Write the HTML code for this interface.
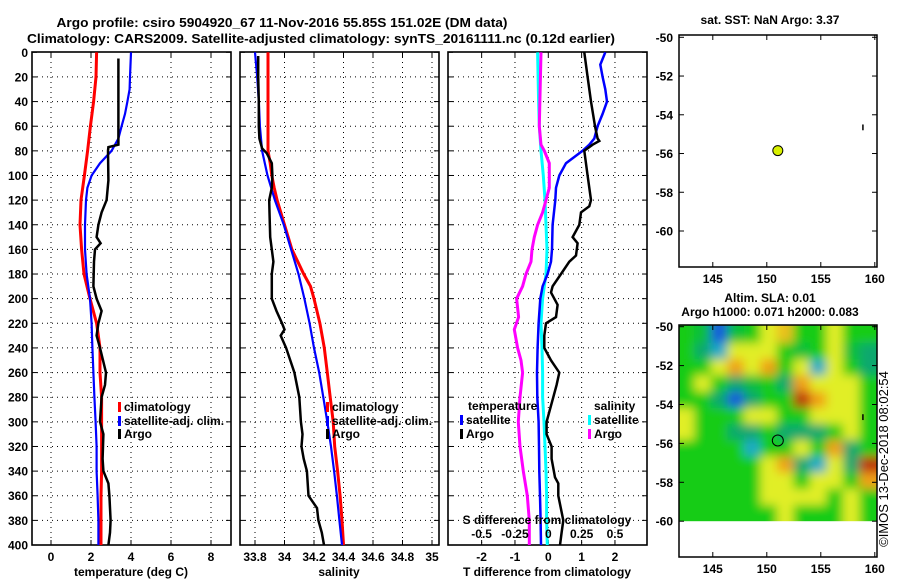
<!DOCTYPE html>
<html><head><meta charset="utf-8"><style>
html,body{margin:0;padding:0;background:#fff;}
svg{display:block;font-family:"Liberation Sans",sans-serif;}
.b{font-weight:bold;font-size:12px;}
</style></head><body>
<svg id="c" width="900" height="580" viewBox="0 0 900 580" xmlns="http://www.w3.org/2000/svg">
<defs>
<clipPath id="cp1"><rect x="32" y="52" width="199" height="493"/></clipPath>
<clipPath id="cp2"><rect x="240" y="52" width="199" height="493"/></clipPath>
<clipPath id="cp3"><rect x="448" y="52" width="199" height="493"/></clipPath>
<clipPath id="cpm"><rect x="679" y="325" width="198" height="197"/></clipPath>
<filter id="blur" filterUnits="userSpaceOnUse" x="660" y="300" width="240" height="250"><feGaussianBlur stdDeviation="5"/></filter>
</defs>
<text x="282" y="27" text-anchor="middle" font-weight="bold" font-size="13" textLength="451" lengthAdjust="spacingAndGlyphs">Argo profile: csiro 5904920_67 11-Nov-2016 55.85S 151.02E (DM data)</text>
<text x="321" y="43" text-anchor="middle" font-weight="bold" font-size="13" textLength="588" lengthAdjust="spacingAndGlyphs">Climatology: CARS2009. Satellite-adjusted climatology: synTS_20161111.nc (0.12d earlier)</text>
<g id="g"></g>
</svg>
<script>
// ---- data ----
const depthTicks = [0,20,40,60,80,100,120,140,160,180,200,220,240,260,280,300,320,340,360,380,400];
const tTicks = [0,2,4,6,8];
const sTicks = [33.8,34,34.2,34.4,34.6,34.8,35];
const dTTicks = [-2,-1,0,1,2];
const dSTicks = [-0.5,-0.25,0,0.25,0.5];
const dSTickLabels = ["-0.5","-0.25","0","0.25","0.5"];

const climTDepth = [0,20,40,60,80,100,120,140,160,180,200,220,240,260,280,300,320,340,360,380,400];
const climT = [2.28,2.25,2.13,1.97,1.83,1.67,1.5,1.45,1.53,1.65,1.95,2.28,2.45,2.45,2.53,2.53,2.53,2.53,2.5,2.5,2.5];
const satTDepth = [0,20,30,40,50,60,70,80,90,100,110,120,140,160,180,200,220,240,260,280,300,320,340,360,380,400];
const satT = [4.0,3.95,3.93,3.82,3.7,3.53,3.37,3.03,2.45,2.03,1.82,1.75,1.7,1.7,1.78,1.95,2.03,2.07,2.12,2.17,2.23,2.28,2.28,2.33,2.37,2.37];
const argoTDepth = [5,75,77,80,104,120,130,140,150,155,160,170,190,200,210,220,230,240,260,270,280,300,310,330,340,350,360,380,390,400];
const argoT = [3.37,3.37,2.87,2.85,2.87,2.78,2.53,2.37,2.28,2.48,2.2,2.15,2.12,2.28,2.53,2.37,2.28,2.45,2.75,2.7,2.53,2.45,2.62,2.58,2.62,2.87,2.92,2.98,2.95,2.87];

const climSDepth = [0,80,90,100,110,120,140,160,170,180,190,200,220,240,260,280,300,320,340,360,380,400];
const climS = [33.888,33.888,33.903,33.914,33.93,33.95,34.0,34.05,34.09,34.13,34.176,34.2,34.24,34.27,34.29,34.31,34.33,34.34,34.36,34.377,34.39,34.40];
const satSDepth = [0,20,40,60,80,100,120,140,160,170,180,200,220,240,260,280,300,320,340,360,380,400];
const satS = [33.8,33.815,33.826,33.833,33.848,33.885,33.935,33.995,34.045,34.07,34.095,34.135,34.17,34.2,34.235,34.263,34.29,34.315,34.336,34.355,34.372,34.39];
const argoSDepth = [3,20,40,60,70,78,82,90,100,110,120,130,150,160,170,180,200,210,220,225,230,240,260,280,300,310,320,330,340,360,370,380,390,400];
const argoS = [33.822,33.822,33.826,33.826,33.83,33.848,33.88,33.914,33.918,33.914,33.896,33.898,33.903,33.914,33.925,33.914,33.914,33.946,33.983,34.0,33.974,34.011,34.067,34.1,34.111,34.122,34.115,34.13,34.152,34.163,34.22,34.23,34.253,34.268];

const satDTDepth = [0,10,20,30,40,50,60,70,75,80,85,90,100,110,120,140,160,170,180,190,200,220,240,260,280,300,320,340,360,380,400];
const satDT = [1.71,1.56,1.63,1.71,1.76,1.63,1.48,1.38,1.23,1.03,0.78,0.53,0.33,0.23,0.21,0.13,0.11,0.08,-0.02,-0.17,-0.24,-0.29,-0.32,-0.34,-0.33,-0.29,-0.28,-0.27,-0.25,-0.23,-0.22];
const argoDTDepth = [0,20,40,60,70,72,75,80,100,120,125,130,140,150,155,165,170,180,190,195,205,215,220,230,240,250,260,270,280,300,310,320,330,345,350,360,380,390,400];
const argoDT = [1.08,1.18,1.28,1.4,1.48,1.53,1.33,1.08,1.18,1.28,1.23,0.98,0.93,0.73,0.88,0.83,0.63,0.38,0.13,0.08,0.28,0.23,-0.07,-0.12,-0.12,0.08,0.33,0.25,0.15,-0.05,-0.05,0.1,0.1,0.2,0.3,0.3,0.45,0.4,0.35];
const satDSDepth = [0,40,60,80,100,120,140,160,180,190,200,220,240,260,280,300,320,340,360,380,400];
const satDS = [-0.08,-0.0725,-0.0675,-0.055,-0.0375,-0.025,-0.0175,-0.01,-0.0175,-0.03,-0.0425,-0.055,-0.0475,-0.0425,-0.0425,-0.0325,-0.025,-0.0175,-0.0125,-0.0125,-0.0075];
const argoDSDepth = [0,60,75,80,90,110,120,130,140,150,160,170,180,190,200,215,225,240,250,260,280,300,320,340,360,380,400];
const argoDS = [-0.055,-0.0675,-0.055,-0.03,0.0075,0.0075,-0.0175,-0.0425,-0.08,-0.105,-0.1225,-0.13,-0.1675,-0.1925,-0.2375,-0.2225,-0.255,-0.23,-0.205,-0.1925,-0.2125,-0.225,-0.2125,-0.1875,-0.1575,-0.1425,-0.1425];

const lonTicks = [145,150,155,160];
const latTicks = [-50,-52,-54,-56,-58,-60];
const argoLon = 151.02, argoLat = -55.85;
const slaGrid = [
[0,-0.5,-2,-0.5,0,1,1.3,0,0,1,0,0],
[0,-1,-1.5,1,1,1,0,-0.5,0,1,-0.5,-1],
[0,0,1,1.5,1,1.5,0,1,-1.5,1,0,-1],
[0,1,0,-1,-0.5,0,-1,1.5,1,1,1,0],
[0,0,-1,-2,-1,0,0,2,1.5,1,1,0],
[1,0,0,0,1,1,0,0,1,1,1,0],
[1,0,0,-1,-1,0,-1,-1,-1,0,1,0],
[0,0,0,0,-1.5,0,0,1,0,1.5,-1,0],
[0,0,0,0,0,1,1.5,-1,-1.5,1,-1,2],
[0,0,0,0,0,1,1,0,1,1,0,1.5],
[0,0,0,0,0,1,1,1,1,0,1,0],
[0,0,0,0,0,0,1,0,0,0,1,0]];

// ---- scales ----
const dy = d => 52.3 + d*1.2318;
const xT = t => 51 + 20*t;
const xS = s => 255 + (s-33.8)*147.5;
const xDT = v => 548.3 + v*33.33;
const xDS = s => 548.3 + (s/0.25)*33.33;
const lonX = lon => 766.8 + (lon-150)*10.8;
const latY1 = lat => 37.3 + (-50-lat)*19.37;
const latY2 = lat => 326.7 + (-50-lat)*19.45;

const NS="http://www.w3.org/2000/svg";
const G=document.getElementById('g');
function mk(tag,attrs,parent){const e=document.createElementNS(NS,tag);for(const k in attrs)e.setAttribute(k,attrs[k]);(parent||G).appendChild(e);return e;}
function txt(x,y,s,anchor,cls,parent){const e=mk('text',{x:x,y:y,'text-anchor':anchor||'middle','class':cls||'b'},parent);e.textContent=s;return e;}

function panel(x0,name,clip,xticks,xf,labels,xtitle){
  const p=mk('g',{});
  
  
  depthTicks.forEach((d,i)=>{
    if(i>0&&i<depthTicks.length-1){const l=mk('line',{x1:x0,x2:x0+199,y1:dy(d),y2:dy(d),stroke:'#000','stroke-width':1,'stroke-dasharray':'1,4'},p);
    
    }
    mk('line',{x1:x0,x2:x0+5,y1:dy(d),y2:dy(d),stroke:'#000'},p);
    mk('line',{x1:x0+194,x2:x0+199,y1:dy(d),y2:dy(d),stroke:'#000'},p);
  });
  xticks.forEach((t,i)=>{
    const x=xf(t);
    const l=mk('line',{x1:x,x2:x,y1:52,y2:545,stroke:'#000','stroke-width':1,'stroke-dasharray':'1,4'},p);
    
    
    mk('line',{x1:x,x2:x,y1:540,y2:545,stroke:'#000'},p);
    mk('line',{x1:x,x2:x,y1:52,y2:57,stroke:'#000'},p);
    const t2=txt(x,561,labels[i],'middle','b',p);
    
    
  });
  const fr=mk('rect',{x:x0,y:52,width:199,height:493,fill:'none',stroke:'#000','stroke-width':1.6},p);
  
  
  if(xtitle){const tt=txt(x0+99,576,xtitle,'middle','b',p);
    
    }
  return p;
}
function line(depths,vals,xf,color,w,clip,name){
  const pts=depths.map((d,i)=>xf(vals[i]).toFixed(1)+','+dy(d).toFixed(1)).join(' ');
  const e=mk('polyline',{points:pts,fill:'none',stroke:color,'stroke-width':w,'stroke-linejoin':'miter','clip-path':'url(#'+clip+')'});
  
  
}
function legend(x,y,color,label,name){
  const m=mk('rect',{x:x,y:y-9,width:3,height:10,fill:color});
  
  
  const t=txt(x+6,y,label,'start','b');
  
  
}

// panel 1
panel(32,'temperature-panel','cp1',tTicks,xT,tTicks.map(String),'temperature (deg C)');
depthTicks.forEach(d=>{const t=txt(28,dy(d)+4.5,String(d),'end','b');
  
  });
line(climTDepth,climT,xT,'#ff0000',3,'cp1','temperature-climatology-line');
line(satTDepth,satT,xT,'#0000ff',2.2,'cp1','temperature-satellite-line');
line(argoTDepth,argoT,xT,'#000',2.5,'cp1','temperature-argo-line');
legend(118,411,'#ff0000','climatology','legend-climatology-1');
legend(118,425,'#0000ff','satellite-adj. clim.','legend-satellite-1');
legend(118,438,'#000','Argo','legend-argo-1');

// panel 2
panel(240,'salinity-panel','cp2',sTicks,xS,['33.8','34','34.2','34.4','34.6','34.8','35'],'salinity');
line(climSDepth,climS,xS,'#ff0000',3,'cp2','salinity-climatology-line');
line(satSDepth,satS,xS,'#0000ff',2.2,'cp2','salinity-satellite-line');
line(argoSDepth,argoS,xS,'#000',2.5,'cp2','salinity-argo-line');
legend(326,411,'#ff0000','climatology','legend-climatology-2');
legend(326,425,'#0000ff','satellite-adj. clim.','legend-satellite-2');
legend(326,438,'#000','Argo','legend-argo-2');

// panel 3
panel(448,'difference-panel','cp3',dTTicks,xDT,dTTicks.map(String),'T difference from climatology');
line(satDSDepth,satDS,xDS,'#00ffff',3,'cp3','salinity-satellite-diff-line');
line(argoDSDepth,argoDS,xDS,'#ff00ff',3,'cp3','salinity-argo-diff-line');
line(satDTDepth,satDT,xDT,'#0000ff',2.5,'cp3','temperature-satellite-diff-line');
line(argoDTDepth,argoDT,xDT,'#000',2.5,'cp3','temperature-argo-diff-line');
{const t=txt(468,410,'temperature','start','b');}
legend(460,424,'#0000ff','satellite','legend-temperature-satellite');
legend(460,438,'#000','Argo','legend-temperature-argo');
{const t=txt(594,410,'salinity','start','b');}
legend(588,424,'#00ffff','satellite','legend-salinity-satellite');
legend(588,438,'#ff00ff','Argo','legend-salinity-argo');
{const t=txt(547,524,'S difference from climatology','middle','b');}
dSTicks.forEach((s,i)=>{const t=txt(xDS(s),538,dSTickLabels[i],'middle','b');
  
  });

// maps
function colorFor(v){
  const stops=[[-2,[20,90,220]],[-1.5,[30,170,200]],[-1,[16,168,110]],[-0.5,[10,190,60]],[0,[20,204,20]],[0.5,[130,220,30]],[1,[225,238,40]],[1.5,[240,160,20]],[2,[190,50,10]]];
  if(v<=stops[0][0])return 'rgb('+stops[0][1]+')';
  for(let i=1;i<stops.length;i++){if(v<=stops[i][0]){const a=stops[i-1],b=stops[i],f=(v-a[0])/(b[0]-a[0]);
    return 'rgb('+a[1].map((c,k)=>Math.round(c+(b[1][k]-c)*f)).join(',')+')';}}
  return 'rgb('+stops[stops.length-1][1]+')';
}
function mapFrame(top,bottom,latY,name,titleLines){
  const m=mk('g',{});
  
  
  latTicks.forEach(l=>{const y=latY(l);
    mk('line',{x1:679,x2:684,y1:y,y2:y,stroke:'#000'},m);
    mk('line',{x1:872,x2:877,y1:y,y2:y,stroke:'#000'},m);
    const t=txt(673,y+4.5,String(l),'end','b',m);
    
    });
  lonTicks.forEach(l=>{const x=lonX(l);
    mk('line',{x1:x,x2:x,y1:top,y2:top+5,stroke:'#000'},m);
    mk('line',{x1:x,x2:x,y1:bottom-5,y2:bottom,stroke:'#000'},m);
    const t=txt(x,bottom+16,String(l),'middle','b',m);
    
    });
  titleLines.forEach(([s,y])=>{const t=txt(770,y,s,'middle','b',m);
    
    });
  return m;
}
// SLA heatmap
const hm=mk('g',{'clip-path':'url(#cpm)'});


const hb=mk('g',{filter:'url(#blur)'},hm);
const nR=slaGrid.length,nC=slaGrid[0].length;
const lon0=141.76,lon1=160.1;
slaGrid.forEach((row,r)=>row.forEach((v,c)=>{
  let x0=lonX(lon0+(lon1-lon0)*c/nC),x1=lonX(lon0+(lon1-lon0)*(c+1)/nC);
  let y0=latY2(-50-10*r/nR),y1=latY2(-50-10*(r+1)/nR);
  // extend edge cells so blur doesn't fade at borders
  if(c===0)x0-=12; if(c===nC-1)x1+=12; if(r===0)y0-=12; if(r===nR-1)y1+=12;
  const cell=mk('rect',{x:x0,y:y0,width:x1-x0+0.6,height:y1-y0+0.6,fill:colorFor(v)},hb);
  
  
}));
mk('rect',{x:678,y:latY2(-60),width:200,height:40,fill:'#fff'});
mapFrame(35,267,latY1,'sst-map',[['sat. SST: NaN Argo: 3.37',24]]);
mapFrame(325,557,latY2,'sla-map',[['Altim. SLA: 0.01',302],['Argo h1000: 0.071 h2000: 0.083',316]]);
{const f=mk('rect',{x:679,y:35,width:198,height:232,fill:'none',stroke:'#000','stroke-width':1.5});}
{const f=mk('rect',{x:679,y:325,width:198,height:232,fill:'none',stroke:'#000','stroke-width':1.5});}
{const d=mk('circle',{cx:lonX(argoLon),cy:latY1(argoLat),r:5,fill:'#d8f000',stroke:'#000','stroke-width':1});}
{const d=mk('circle',{cx:lonX(argoLon),cy:latY2(argoLat),r:5.5,fill:'none',stroke:'#000','stroke-width':1});}
{const d=mk('line',{x1:lonX(158.9),x2:lonX(158.9),y1:latY1(-54.5),y2:latY1(-54.8),stroke:'#000','stroke-width':1.5});}
{const d=mk('line',{x1:lonX(158.9),x2:lonX(158.9),y1:latY2(-54.5),y2:latY2(-54.8),stroke:'#000','stroke-width':1.5});}
{const t=mk('text',{x:0,y:0,transform:'translate(888,459) rotate(-90)','text-anchor':'middle','font-size':'13'});t.textContent='©IMOS 13-Dec-2018 08:02:54';

}
</script>
</body></html>
